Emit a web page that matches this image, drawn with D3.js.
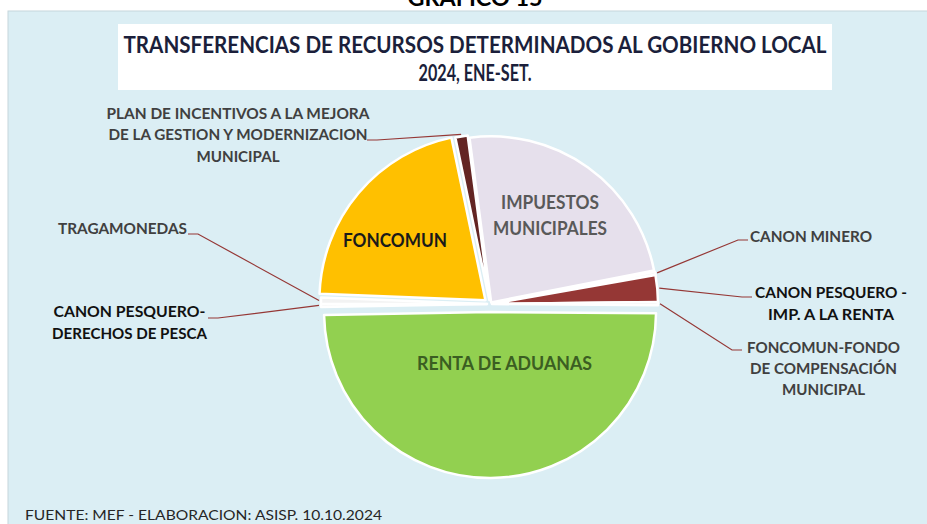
<!DOCTYPE html>
<html>
<head>
<meta charset="utf-8">
<script src="https://cdn.jsdelivr.net/npm/d3@7"></script>
<style>
body{margin:0;background:#fff;}
svg{display:block;font-family:Lato,"Open Sans",sans-serif;}
</style>
</head>
<body>
<div id="chart"></div>
<script>
// data (shares in %, clockwise from the top)
var categories = [
	"IMPUESTOS MUNICIPALES",
	"CANON MINERO",
	"CANON PESQUERO - IMP. A LA RENTA",
	"FONCOMUN-FONDO DE COMPENSACIÓN MUNICIPAL",
	"RENTA DE ADUANAS",
	"CANON PESQUERO-DERECHOS DE PESCA",
	"TRAGAMONEDAS",
	"FONCOMUN",
	"PLAN DE INCENTIVOS A LA MEJORA DE LA GESTION Y MODERNIZACION MUNICIPAL"
];
var shares = [24.0, 0.3, 2.6, 0.3, 49.6, 0.3, 0.6, 21.1, 1.2];

var labelLines = [
	["IMPUESTOS", "MUNICIPALES"],
	["CANON MINERO"],
	["CANON PESQUERO  -", "IMP.  A LA RENTA"],
	["FONCOMUN-FONDO", "DE COMPENSACIÓN", "MUNICIPAL"],
	["RENTA DE ADUANAS"],
	["CANON PESQUERO-", "DERECHOS  DE PESCA"],
	["TRAGAMONEDAS"],
	["FONCOMUN"],
	["PLAN DE INCENTIVOS  A LA MEJORA", "DE LA GESTION  Y MODERNIZACION", "MUNICIPAL"]
];
var titleLines = ["TRANSFERENCIAS DE RECURSOS DETERMINADOS AL GOBIERNO LOCAL", "2024, ENE-SET."];
var headText = "GRAFICO 15";
var sourceText = "FUENTE:  MEF - ELABORACION:  ASISP. 10.10.2024";

// styling
var W = 927, H = 524;
var cx = 490, cy = 304, R = 166;
var startDeg = -7.5;
var sliceColors = ["#e6e0ec", "#f3f3f3", "#953735", "#f3f3f3", "#92d050", "#f3f3f3", "#f3f3f3", "#ffc000", "#632523"];
var explode = [2, 2, 2, 2, 8, 3, 3, 6, 4];
var leaderColor = "#953735";

// label placement (manually placed in the original)
var inside = {
	0: {x: 550, y: [202.5, 228.5], w: [98, 114], size: 18, color: "#595959"},
	4: {x: 504.5, y: [363.5], w: [175], size: 18, color: "#3b5e22"},
	7: {x: 395, y: [240.5], w: [104], size: 19, color: "#1a1a1a"}
};
var outside = {
	1: {x: 811, y: [236], w: [122], color: "#404040", at: [748, 240], dir: -1},
	2: {x: 831, y: [292.5, 314], w: [152, 126], color: "#111", at: [752, 297], dir: -1},
	3: {x: 823.5, y: [347.5, 368.5, 389], w: [153, 147, 83], color: "#404040", at: [742, 350], dir: -1},
	5: {x: 129.5, y: [311, 333], w: [152, 155], color: "#111", at: [208, 318], dir: 1},
	6: {x: 122.5, y: [228], w: [129], color: "#404040", at: [188, 234], dir: 1},
	8: {x: 238, y: [113, 134.5, 156], w: [263, 259, 83], color: "#404040", at: [367, 140], dir: 1}
};

var svg = d3.select("#chart").append("svg")
	.attr("width", W)
	.attr("height", H);

svg.append("rect").attr("width", W).attr("height", H).attr("fill", "#fff");

function addText(g, str, x, yc, size, width, color, weight, anchor){
	return g.append("text")
		.attr("x", x)
		.attr("y", yc + size * 0.36)
		.attr("text-anchor", anchor || "middle")
		.attr("font-size", size)
		.attr("font-weight", weight)
		.attr("fill", color)
		.attr("textLength", width)
		.attr("lengthAdjust", "spacingAndGlyphs")
		.text(str);
}

// heading, cut by the top edge as in the original
addText(svg, headText, 475, -2, 22, 135, "#000", 700);

// chart area
svg.append("rect")
	.attr("x", 8).attr("y", 11)
	.attr("width", W).attr("height", H)
	.attr("fill", "#dbeef4")
	.attr("stroke", "#c6d6dc")
	.attr("stroke-width", 1);

// title box
svg.append("rect")
	.attr("x", 118).attr("y", 24)
	.attr("width", 714).attr("height", 66)
	.attr("fill", "#fff");
addText(svg, titleLines[0], 475, 45, 22, 703, "#1b1f3b", 700);
addText(svg, titleLines[1], 475, 73, 22, 113, "#1b1f3b", 700);

var pie = d3.pie()
	.sort(null)
	.value(function(d){ return d; })
	.startAngle(startDeg * Math.PI / 180)
	.endAngle(startDeg * Math.PI / 180 + 2 * Math.PI);

var arc = d3.arc().innerRadius(0).outerRadius(R);
var arcs = pie(shares);

function offset(d){
	var mid = (d.startAngle + d.endAngle) / 2;
	var e = explode[d.index];
	return [Math.sin(mid) * e, -Math.cos(mid) * e];
}

var pieG = svg.append("g").attr("transform", "translate(" + cx + "," + cy + ")");

pieG.selectAll("path.slice")
	.data(arcs)
	.enter().append("path")
	.attr("class", "slice")
	.attr("transform", function(d){ var o = offset(d); return "translate(" + o[0] + "," + o[1] + ")"; })
	.attr("d", arc)
	.attr("fill", function(d){ return sliceColors[d.index]; })
	.attr("stroke", "#fff")
	.attr("stroke-width", 2.5)
	.attr("stroke-linejoin", "round");

// leader lines
var outerArc = d3.arc().innerRadius(R + 2).outerRadius(R + 2);
var leaders = arcs.filter(function(d){ return outside[d.index]; });

svg.selectAll("polyline.leader")
	.data(leaders)
	.enter().append("polyline")
	.attr("class", "leader")
	.attr("fill", "none")
	.attr("stroke", leaderColor)
	.attr("stroke-width", 1.2)
	.attr("points", function(d){
		var c = outerArc.centroid(d), o = offset(d), L = outside[d.index];
		var p0 = [cx + c[0] + o[0], cy + c[1] + o[1]];
		var p1 = [L.at[0] + 10 * L.dir, L.at[1]];
		return [p0, p1, L.at].map(function(p){ return p.join(","); }).join(" ");
	});

// outside labels
Object.keys(outside).forEach(function(k){
	var L = outside[k];
	labelLines[k].forEach(function(line, i){
		addText(svg, line, L.x, L.y[i], 16, L.w[i], L.color, 700);
	});
});

// inside labels
Object.keys(inside).forEach(function(k){
	var L = inside[k];
	labelLines[k].forEach(function(line, i){
		addText(svg, line, L.x, L.y[i], L.size, L.w[i], L.color, 700);
	});
});

addText(svg, sourceText, 25, 515, 13, 357, "#262626", 400, "start");
</script>
</body>
</html>
